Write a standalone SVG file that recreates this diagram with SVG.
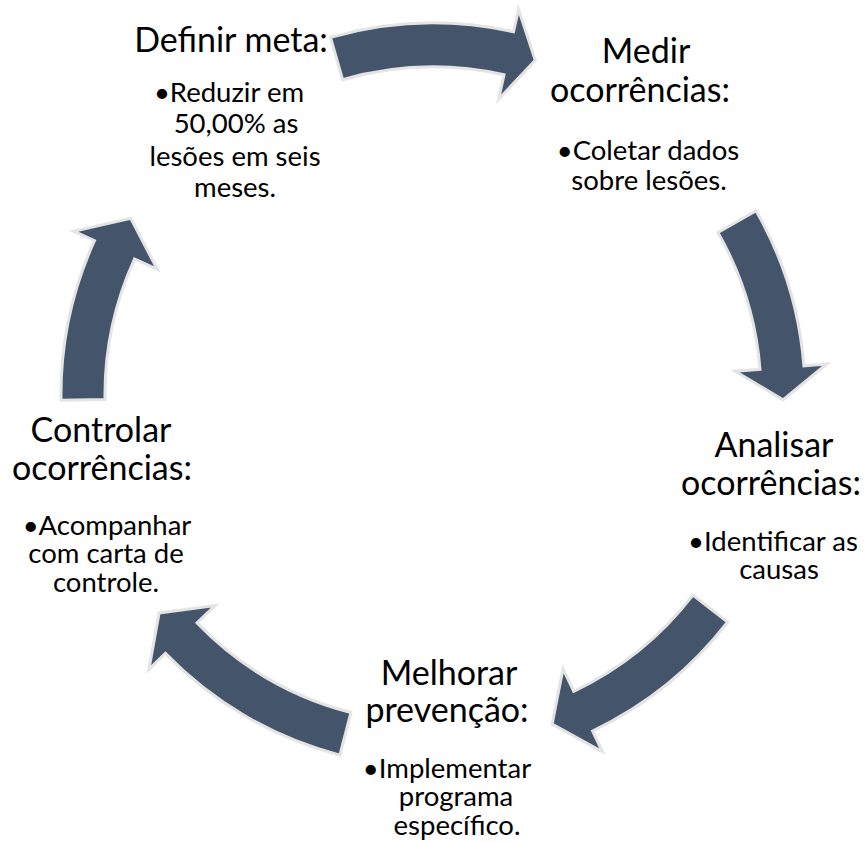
<svg xmlns="http://www.w3.org/2000/svg" width="865" height="843" viewBox="0 0 865 843">
<style>
.arrow{fill:#44546A;stroke:#E4E4E4;stroke-width:3;stroke-linejoin:miter;stroke-miterlimit:10}
.t{font-family:Lato,"Open Sans","Liberation Sans",sans-serif;fill:#000;text-anchor:middle}
.h{font-size:34px}
.b{font-size:27.5px}
</style>
<rect width="865" height="843" fill="#fff"/>
<g id="connectors">
<path class="arrow" d="M330.5,37.4 A372,372 0 0 1 513.5,31.8 L518.5,9.4 L535.3,60.3 L498.6,99.2 L504,74.8 A328,328 0 0 0 342.6,79.7 Z"/>
<path class="arrow" d="M756.1,210.7 A372,372 0 0 1 803.9,365.8 L826.8,364 L783,399.9 L735.1,371.2 L760,369.3 A328,328 0 0 0 717.9,232.5 Z"/>
<path class="arrow" d="M727.7,622 A372,372 0 0 1 592.6,731 L602.4,751.8 L552.1,724.1 L563,668.7 L573.7,691.3 A328,328 0 0 0 692.9,595.1 Z"/>
<path class="arrow" d="M339.9,755.1 A372,372 0 0 1 165.4,653.4 L148.9,669.4 L159.1,612.9 L215.1,605.5 L197.1,622.9 A328,328 0 0 0 350.9,712.5 Z"/>
<path class="arrow" d="M61,400.2 A372,372 0 0 1 94.5,240.7 L73.5,231.2 L130.8,218.4 L157.3,269.3 L134.5,259 A328,328 0 0 0 105,399.6 Z"/>
</g>
<g id="node-definir">
<text class="t h" x="231" y="52">Definir meta:</text>
<text class="t b" x="229" y="102">•Reduzir em</text>
<text class="t b" x="236" y="133">50,00% as</text>
<text class="t b" x="235" y="166">lesões em seis</text>
<text class="t b" x="235" y="197">meses.</text>
</g>
<g id="node-medir">
<text class="t h" x="646" y="63">Medir</text>
<text class="t h" x="640" y="102">ocorrências:</text>
<text class="t b" x="648" y="160">•Coletar dados</text>
<text class="t b" x="649" y="190">sobre lesões.</text>
</g>
<g id="node-analisar">
<text class="t h" x="774" y="457">Analisar</text>
<text class="t h" x="771" y="495">ocorrências:</text>
<text class="t b" x="773" y="551">•Identificar as</text>
<text class="t b" x="779" y="579">causas</text>
</g>
<g id="node-melhorar">
<text class="t h" x="449" y="685">Melhorar</text>
<text class="t h" x="447" y="722">prevenção:</text>
<text class="t b" x="447" y="778">•Implementar</text>
<text class="t b" x="456" y="806">programa</text>
<text class="t b" x="457" y="835">específico.</text>
</g>
<g id="node-controlar">
<text class="t h" x="101" y="442">Controlar</text>
<text class="t h" x="102" y="480">ocorrências:</text>
<text class="t b" x="107" y="535">•Acompanhar</text>
<text class="t b" x="106" y="563">com carta de</text>
<text class="t b" x="106" y="592">controle.</text>
</g>
</svg>
